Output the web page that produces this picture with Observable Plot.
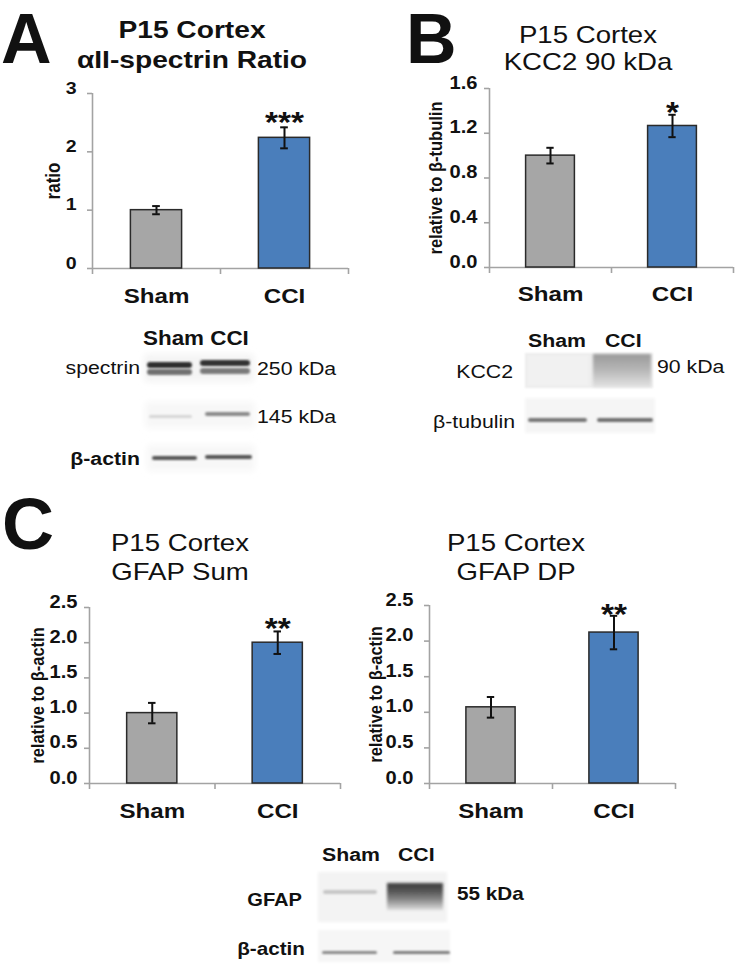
<!DOCTYPE html>
<html><head><meta charset="utf-8">
<script src="https://cdn.jsdelivr.net/npm/d3@7"></script>
<script src="https://cdn.jsdelivr.net/npm/@observablehq/plot@0.6"></script>
<style>
body{margin:0;background:#fff;}
#fig{position:relative;width:735px;height:965px;overflow:hidden;font-family:"Liberation Sans",Arial,sans-serif;background:#fff;}
#fig svg{position:absolute;}
</style></head><body><div id="fig"></div>
<script>
// ---- data ----
const groups = ["Sham", "CCI"];
const spectrinRatio = [1.00, 2.24];
const spectrinSem = [0.07, 0.18];
const spectrinSig = ["", "***"];
const kcc2Rel = [1.00, 1.265];
const kcc2Sem = [0.07, 0.10];
const kcc2Sig = ["", "*"];
const gfapSum = [1.00, 2.00];
const gfapSumSem = [0.145, 0.16];
const gfapSumSig = ["", "**"];
const gfapDP = [1.07, 2.12];
const gfapDPSem = [0.145, 0.235];
const gfapDPSig = ["", "**"];
const ticksA = [0, 1, 2, 3];
const ticksB = [0, 0.4, 0.8, 1.2, 1.6];
const ticksC = [0, 0.5, 1.0, 1.5, 2.0, 2.5];

const S = 1.15; // horizontal glyph stretch of the original figure
const FONT = "Liberation Sans, Arial, sans-serif";
const AX = "#a3a3a3";
const fig = document.getElementById("fig");

function stretchText(root) {
  root.querySelectorAll("text").forEach(t => {
    const tr = t.getAttribute("transform") || "";
    if (/rotate/.test(tr)) { t.setAttribute("transform", `${tr} scale(1,${S})`); return; }
    const x = +t.getAttribute("x") || 0, y = +t.getAttribute("y") || 0;
    t.removeAttribute("x"); t.removeAttribute("y");
    t.setAttribute("transform", `${tr} translate(${x},${y}) scale(${S},1)`);
  });
}

function barChart(c) {
  const rows = groups.map((g, i) => ({g, i, v: c.values[i], e: c.sems[i], sig: c.sig[i]}));
  const [left, top, width, height, mL, mT, mR, mB] = c.box;
  const p = Plot.plot({
    width, height, marginLeft: mL, marginTop: mT, marginRight: mR, marginBottom: mB,
    style: {background: "none", fontFamily: FONT, color: "#111", overflow: "visible"},
    x: {domain: [0, groups.length], axis: null},
    y: {domain: c.domain, axis: null},
    marks: [
      Plot.axisY({ticks: c.ticks, tickSize: 5, stroke: AX, strokeWidth: 1.6, fill: "none", label: null}),
      Plot.text(c.ticks, {y: d => d, text: c.fmt, frameAnchor: "left", textAnchor: "end",
        dx: -(5 + c.tickPadding), fontSize: c.tickFont, fontWeight: "bold", fill: "#111"}),
      Plot.axisX({ticks: d3.range(groups.length + 1), tickSize: 6, stroke: AX, strokeWidth: 1.6,
        fill: "none", label: null}),
      Plot.ruleX([0], {stroke: AX, strokeWidth: 1.6}),
      Plot.ruleY([0], {stroke: AX, strokeWidth: 1.6}),
      Plot.rectY(rows, {x1: d => d.i + 0.3, x2: d => d.i + 0.7, y1: 0, y2: "v",
        fill: d => d.i ? "#4a7ebb" : "#a6a6a6", stroke: "#2a2a2a", strokeWidth: 1.5}),
      Plot.ruleX(rows, {x: d => d.i + 0.5, y1: d => d.v - d.e, y2: d => d.v + d.e, stroke: "#111", strokeWidth: 2}),
      Plot.ruleY(rows, {y: d => d.v + d.e, x1: d => d.i + 0.47, x2: d => d.i + 0.53, stroke: "#111", strokeWidth: 2}),
      Plot.ruleY(rows, {y: d => d.v - d.e, x1: d => d.i + 0.47, x2: d => d.i + 0.53, stroke: "#111", strokeWidth: 2}),
      Plot.text(rows, {x: d => d.i + 0.5, y: d => d.v + d.e, text: "sig", fontSize: 29, fontWeight: "bold",
        lineAnchor: "bottom", dy: c.sigDy, fill: "#111"}),
      Plot.text(rows, {x: d => d.i + 0.5, frameAnchor: "bottom", text: "g", fontSize: 21, fontWeight: "bold",
        lineAnchor: "bottom", dy: c.catDy, fill: "#111"}),
      Plot.text([c.yLabel], {frameAnchor: "left", textAnchor: "middle", rotate: -90, dx: c.labelDx,
        fontSize: c.labelFont, fontWeight: "bold", fill: "#111"})
    ]
  });
  p.style.left = left + "px";
  p.style.top = top + "px";
  fig.appendChild(p);
  stretchText(p);
}

const f1 = d => d3.format(".1f")(d);
barChart({values: spectrinRatio, sems: spectrinSem, sig: spectrinSig, ticks: ticksA, domain: [0, 3],
  fmt: d => String(d), tickPadding: 11, tickFont: 17, yLabel: "ratio", labelDx: -39, labelFont: 17,
  sigDy: 5, catDy: 34, box: [0, 80, 360, 230, 92, 13, 12, 42]});
barChart({values: kcc2Rel, sems: kcc2Sem, sig: kcc2Sig, ticks: ticksB, domain: [0, 1.6],
  fmt: f1, tickPadding: 7, tickFont: 17.5, yLabel: "relative to β-tubulin", labelDx: -54, labelFont: 16.5,
  sigDy: 7, catDy: 33, box: [370, 75, 365, 235, 119, 13, 2, 43]});
barChart({values: gfapSum, sems: gfapSumSem, sig: gfapSumSig, ticks: ticksC, domain: [0, 2.5],
  fmt: f1, tickPadding: 7, tickFont: 17.5, yLabel: "relative to β-actin", labelDx: -52, labelFont: 16.5,
  sigDy: 7, catDy: 34, box: [0, 590, 360, 240, 89, 17, 20, 47]});
barChart({values: gfapDP, sems: gfapDPSem, sig: gfapDPSig, ticks: ticksC, domain: [0, 2.5],
  fmt: f1, tickPadding: 11, tickFont: 17.5, yLabel: "relative to β-actin", labelDx: -54, labelFont: 16.5,
  sigDy: 8, catDy: 34, box: [360, 590, 375, 240, 69, 15, 60, 47]});

// ---- overlay: panel letters, titles, western blot images ----
const svg = d3.select(fig).append("svg").attr("width", 735).attr("height", 965)
  .style("left", "0px").style("top", "0px").style("pointer-events", "none")
  .attr("font-family", FONT);
const defs = svg.append("defs");
[["b1", 1.0], ["b2", 1.8], ["b3", 3]].forEach(([id, s]) =>
  defs.append("filter").attr("id", id).attr("x", "-30%").attr("y", "-80%").attr("width", "160%").attr("height", "260%")
    .append("feGaussianBlur").attr("stdDeviation", s));
const g1 = defs.append("linearGradient").attr("id", "kccG").attr("x1", 0).attr("x2", 0).attr("y1", 0).attr("y2", 1);
g1.append("stop").attr("offset", "0%").attr("stop-color", "#9a9a9a");
g1.append("stop").attr("offset", "45%").attr("stop-color", "#b4b4b4");
g1.append("stop").attr("offset", "100%").attr("stop-color", "#e2e2e2");
const g2 = defs.append("linearGradient").attr("id", "gfapG").attr("x1", 0).attr("x2", 0).attr("y1", 0).attr("y2", 1);
g2.append("stop").attr("offset", "0%").attr("stop-color", "#3c3c3c");
g2.append("stop").attr("offset", "30%").attr("stop-color", "#555555");
g2.append("stop").attr("offset", "60%").attr("stop-color", "#858585");
g2.append("stop").attr("offset", "100%").attr("stop-color", "#dcdcdc");

function txt(s, x, y, size, weight, anchor, stretch = true) {
  svg.append("text").attr("transform", `translate(${x},${y})` + (stretch ? ` scale(${S},1)` : ""))
    .attr("font-size", size).attr("font-weight", weight).attr("text-anchor", anchor)
    .attr("fill", "#111").text(s);
}
function band(x, y, w, h, color, f = "b1") {
  svg.append("rect").attr("x", x).attr("y", y).attr("width", w).attr("height", h)
    .attr("rx", Math.min(h / 2, 3)).attr("fill", color).attr("filter", `url(#${f})`);
}

// panel letters
txt("A", 1, 63, 70, "bold", "start", false);
txt("B", 406, 63, 70, "bold", "start", false);
txt("C", 2, 549, 72, "bold", "start", false);

// titles
txt("P15 Cortex", 192, 38, 24.5, "bold", "middle");
txt("αII-spectrin Ratio", 192, 68, 24.5, "bold", "middle");
txt("P15 Cortex", 588, 43, 24, "normal", "middle");
txt("KCC2 90 kDa", 588, 70, 24, "normal", "middle");
txt("P15 Cortex", 180, 551, 24, "normal", "middle");
txt("GFAP Sum", 180, 580, 24, "normal", "middle");
txt("P15 Cortex", 516, 551, 24, "normal", "middle");
txt("GFAP DP", 516, 580, 24, "normal", "middle");

// blot A
band(144, 354, 110, 28, "#f4f4f4", "b3");
band(145, 402, 110, 26, "#f7f7f7", "b3");
band(147, 445, 108, 26, "#f7f7f7", "b3");
band(147, 362, 45, 6, "#2e2e2e");
band(147, 369, 45, 6, "#707070");
band(200, 360, 50, 6, "#333333");
band(200, 368, 50, 6, "#7a7a7a");
band(149, 415, 43, 3, "#d6d6d6");
band(205, 412, 45, 4, "#8a8a8a");
band(152, 456, 45, 4, "#555555");
band(205, 455, 47, 4, "#555555");
txt("Sham CCI", 143, 345, 19.5, "bold", "start");
txt("spectrin", 140, 374, 18.5, "normal", "end");
txt("250 kDa", 257, 375, 18.5, "normal", "start");
txt("145 kDa", 257, 423, 18.5, "normal", "start");
txt("β-actin", 140, 465, 18.5, "bold", "end");

// blot B
svg.append("rect").attr("x", 525).attr("y", 353).attr("width", 128).attr("height", 35).attr("fill", "#ececec").attr("filter", "url(#b1)");
svg.append("rect").attr("x", 527).attr("y", 355).attr("width", 62).attr("height", 31).attr("fill", "#f1f1f1").attr("filter", "url(#b1)");
svg.append("rect").attr("x", 593).attr("y", 354).attr("width", 58).attr("height", 33).attr("fill", "url(#kccG)").attr("filter", "url(#b2)");
svg.append("rect").attr("x", 525).attr("y", 398).attr("width", 130).attr("height", 35).attr("fill", "#f5f5f5").attr("filter", "url(#b2)");
band(528, 418, 59, 4, "#777777");
band(597, 418, 56, 4, "#6f6f6f");
txt("Sham", 528, 347, 18.5, "bold", "start");
txt("CCI", 605, 347, 18.5, "bold", "start");
txt("KCC2", 513, 378, 18.5, "normal", "end");
txt("90 kDa", 657, 373, 18.5, "normal", "start");
txt("β-tubulin", 515, 428, 18.5, "normal", "end");

// blot C
svg.append("rect").attr("x", 318).attr("y", 872).attr("width", 129).attr("height", 50).attr("fill", "#f3f3f3").attr("filter", "url(#b2)");
svg.append("rect").attr("x", 318).attr("y", 930).attr("width", 132).attr("height", 32).attr("fill", "#f6f6f6").attr("filter", "url(#b2)");
band(323, 890, 54, 4, "#c6c6c6");
svg.append("rect").attr("x", 387).attr("y", 883).attr("width", 56).attr("height", 27).attr("fill", "url(#gfapG)").attr("filter", "url(#b2)");
band(322, 951, 55, 3, "#8a8a8a");
band(393, 951, 57, 3, "#7e7e7e");
txt("Sham", 322, 861, 18.5, "bold", "start");
txt("CCI", 398, 861, 18.5, "bold", "start");
txt("GFAP", 302, 906, 17.5, "bold", "end");
txt("55 kDa", 457, 900, 18, "bold", "start");
txt("β-actin", 305, 955, 18, "bold", "end");
</script></body></html>
